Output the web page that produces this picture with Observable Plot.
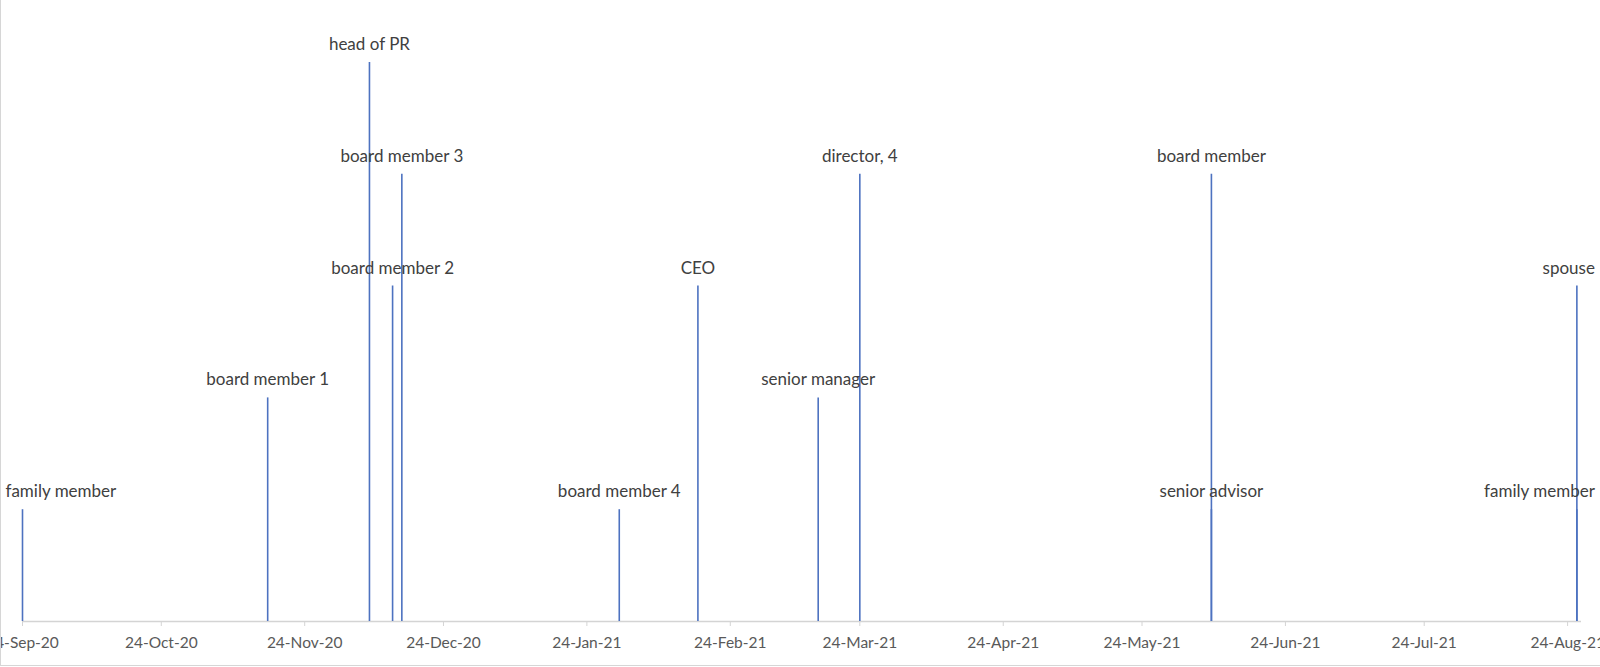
<!DOCTYPE html>
<html>
<head>
<meta charset="utf-8">
<script src="https://cdn.jsdelivr.net/npm/d3@7"></script>
<script src="https://cdn.jsdelivr.net/npm/@observablehq/plot@0.6"></script>
<style>
html, body { margin: 0; padding: 0; background: #fff; }
#wrap { position: relative; width: 1600px; height: 667px; overflow: hidden; }
#wrap::before { content: ""; position: absolute; left: 0; top: 0; bottom: 1px; width: 1px; background: #d6d6d6; }
#wrap::after { content: ""; position: absolute; left: 0; right: 0; bottom: 1px; height: 1px; background: #d6d6d6; }
#wrap svg { display: block; }
</style>
</head>
<body>
<div id="wrap"></div>
<script>
const eventDates = [
  "2020-09-24", "2020-11-16", "2020-12-08", "2020-12-13", "2020-12-15",
  "2021-01-31", "2021-02-17", "2021-03-15", "2021-03-24", "2021-06-08",
  "2021-06-08", "2021-08-26", "2021-08-26"
];
const eventLabels = [
  "family member", "board member 1", "head of PR", "board member 2", "board member 3",
  "board member 4", "CEO", "senior manager", "director, 4", "board member",
  "senior advisor", "spouse", "family member"
];
const eventLevels = [1, 2, 5, 3, 4, 1, 3, 2, 4, 4, 1, 3, 1];

// Axis tick dates (24th of each month)
const tickDates = [
  "2020-09-24", "2020-10-24", "2020-11-24", "2020-12-24", "2021-01-24", "2021-02-24",
  "2021-03-24", "2021-04-24", "2021-05-24", "2021-06-24", "2021-07-24", "2021-08-24"
];
const axisStart = "2020-09-24";
const axisEnd = "2021-08-27";

const events = eventDates.map((d, i) => ({
  date: new Date(d),
  label: eventLabels[i],
  level: eventLevels[i]
}));
const ticks = tickDates.map(d => new Date(d));
const fmt = d3.utcFormat("%d-%b-%y");

// Labels near the ends of the axis are kept inside the chart (as in the spreadsheet rendering)
const t0 = new Date(axisStart), t1 = new Date(axisEnd);
const DAY = 864e5;
const nearStart = e => (e.date - t0) < 10 * DAY;
const nearEnd = e => (t1 - e.date) < 10 * DAY;
const mid = events.filter(e => !nearStart(e) && !nearEnd(e));
const left = events.filter(nearStart);
const right = events.filter(nearEnd);

const textOpts = { x: "date", y: "level", text: "label", dy: -18, fill: "#404040", fontSize: 17 };

const chart = Plot.plot({
  width: 1600,
  height: 667,
  marginLeft: 22,
  marginRight: 19,
  marginTop: 62,
  marginBottom: 46,
  style: { fontFamily: "Lato, 'Open Sans', sans-serif", background: "transparent", overflow: "visible" },
  x: { type: "utc", domain: [t0, t1] },
  y: { domain: [0, 5], axis: null },
  marks: [
    Plot.ruleY([0], { stroke: "#d4d4d4", strokeWidth: 1.3 }),
    Plot.axisX({
      ticks: ticks,
      tickFormat: fmt,
      tickSize: 5,
      tickPadding: 10,
      stroke: "#d4d4d4",
      fill: "#595959",
      fontSize: 15.5,
      label: null
    }),
    Plot.ruleX(events, { x: "date", y1: 0, y2: "level", stroke: "#4d72c0", strokeWidth: 1.6 }),
    Plot.text(mid, textOpts),
    Plot.text(left, { ...textOpts, textAnchor: "start", dx: -17 }),
    Plot.text(right, { ...textOpts, textAnchor: "end", dx: 18 })
  ]
});
document.getElementById("wrap").appendChild(chart);
</script>
</body>
</html>
